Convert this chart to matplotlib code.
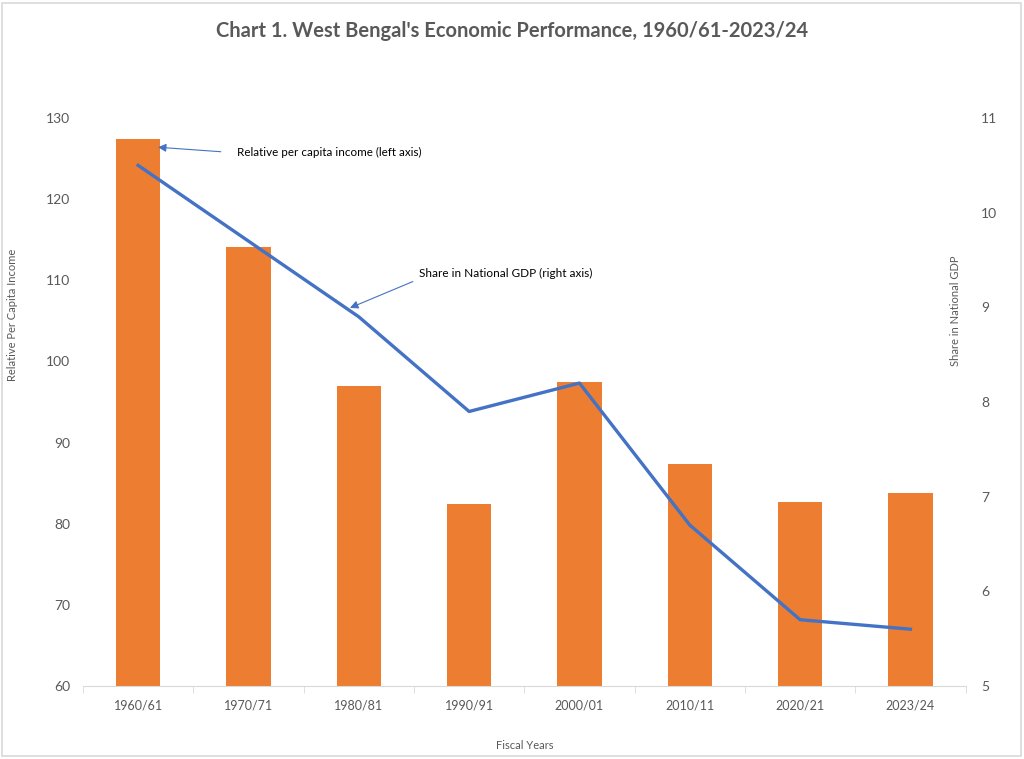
import matplotlib.pyplot as plt
from matplotlib.patches import Rectangle

years = ["1960/61", "1970/71", "1980/81", "1990/91", "2000/01", "2010/11", "2020/21", "2023/24"]
per_capita = [127.4, 114.1, 97.0, 82.4, 97.5, 87.4, 82.7, 83.8]
gdp_share = [10.5, 9.7, 8.9, 7.9, 8.2, 6.7, 5.7, 5.6]

plt.rcParams["font.family"] = ["Lato", "DejaVu Sans"]
grey = "#595959"

fig = plt.figure(figsize = (10.24, 7.59), dpi = 100)
fig.patches.append(Rectangle((0.002, 0.004), 0.995, 0.992, transform = fig.transFigure,
                             fill = False, edgecolor = "#D9D9D9", linewidth = 1.2))

ax = fig.add_axes([0.081, 0.0962, 0.862, 0.7483])
x = list(range(len(years)))
ax.bar(x, per_capita, width = 0.4, color = "#ED7D31", zorder = 2)
ax.set_xlim(-0.5, 7.5)
ax.set_ylim(60, 130)
ax.set_yticks(range(60, 131, 10))
ax.set_xticks(x)
ax.set_xticklabels(years, fontsize = 9, color = grey)
ax.set_xticks([i + 0.5 for i in range(-1, 8)], minor = True)
ax.tick_params(axis = "x", which = "major", length = 0, pad = 10)
ax.tick_params(axis = "x", which = "minor", length = 5, color = "#D9D9D9", direction = "out")
ax.tick_params(axis = "y", length = 0, labelsize = 10, labelcolor = grey, pad = 9)
for s in ["top", "left", "right"]:
    ax.spines[s].set_visible(False)
ax.spines["bottom"].set_color("#D9D9D9")
ax.set_ylabel("Relative Per Capita Income", fontsize = 8, color = grey)
ax.yaxis.set_label_coords(-0.074, 0.653)
ax.set_xlabel("Fiscal Years", fontsize = 8, color = grey)
ax.xaxis.set_label_coords(0.5, -0.095)

ax2 = ax.twinx()
ax2.plot(x, gdp_share, color = "#4472C4", linewidth = 2.4, zorder = 3)
ax2.set_ylim(5, 11)
ax2.set_yticks(range(5, 12))
ax2.tick_params(axis = "y", length = 0, labelsize = 10, labelcolor = grey, pad = 11)
for s in ["top", "left", "right", "bottom"]:
    ax2.spines[s].set_visible(False)
ax2.set_ylabel("Share in National GDP", fontsize = 8, color = grey)
ax2.yaxis.set_label_coords(0.982, 0.66)

ax.annotate("Relative per capita income (left axis)", xy = (0.18, 126.4), xytext = (0.9, 125.7),
            fontsize = 8.4, va = "center", ha = "left", zorder = 5,
            arrowprops = dict(arrowstyle = "-|>", color = "#4472C4", linewidth = 0.8,
                              mutation_scale = 12, relpos = (0, 0.5), shrinkA = 10, shrinkB = 0))
ax.annotate("Share in National GDP (right axis)", xy = (1.92, 106.6), xytext = (2.55, 110.8),
            fontsize = 8.5, va = "center", ha = "left", zorder = 5,
            arrowprops = dict(arrowstyle = "-|>", color = "#4472C4", linewidth = 0.8,
                              mutation_scale = 12, relpos = (0, 0.05), shrinkA = 3, shrinkB = 0))

fig.suptitle("Chart 1. West Bengal's Economic Performance, 1960/61-2023/24", y = 0.972,
             fontsize = 14.5, fontweight = "bold", color = grey)

plt.savefig("out.png", dpi = 100)
